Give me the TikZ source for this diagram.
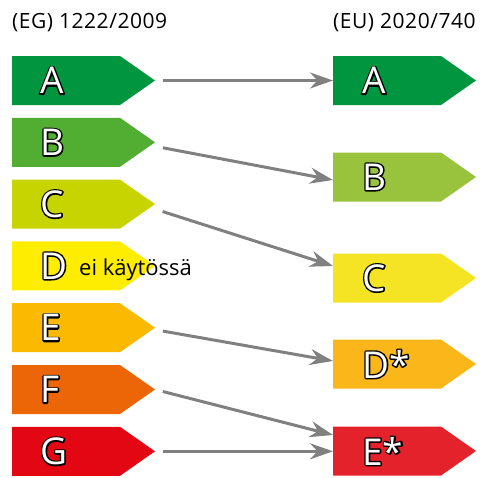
\documentclass[tikz,border=0pt]{standalone}
\usepackage{fontspec}
\setmainfont{Open Sans}
\usetikzlibrary{positioning,shapes.symbols,arrows.meta}
% old scale
\definecolor{oldA}{HTML}{009640}
\definecolor{oldB}{HTML}{52AE32}
\definecolor{oldC}{HTML}{C8D400}
\definecolor{oldD}{HTML}{FFED00}
\definecolor{oldE}{HTML}{FBBA00}
\definecolor{oldF}{HTML}{EC6608}
\definecolor{oldG}{HTML}{E30613}
% new scale
\definecolor{newA}{HTML}{00963F}
\definecolor{newB}{HTML}{9AC33D}
\definecolor{newC}{HTML}{F4E423}
\definecolor{newD}{HTML}{FBB61A}
\definecolor{newE}{HTML}{E3222B}
\definecolor{shiftgray}{HTML}{808080}
% black stroke behind, white fill on top
\newcommand\outlined[1]{\rlap{\color{black}\special{pdf:literal direct 2 Tr 2.8 w 0 0 0 RG 1 j}#1\special{pdf:literal direct 0 Tr}}{\color{white}#1}}
\tikzset{
  classbox/.style={signal, signal to=east, signal pointer angle=70,
    minimum width=143pt, minimum height=49pt, inner sep=0pt, outer sep=0pt,
    fill=#1, anchor=west},
  grade/.style={anchor=west, inner sep=0pt, font=\fontsize{37}{37}\selectfont},
  shiftarrow/.style={-{Stealth[length=23pt,width=16pt]}, line width=3pt,
    draw=shiftgray, shorten <=8pt},
  heading/.style={anchor=base west, inner sep=0pt,
    font=\fontsize{21}{21}\selectfont\addfontfeature{LetterSpace=2.5}}
}
\begin{document}
\begin{tikzpicture}[x=1pt,y=-1pt]
  \useasboundingbox (0,0) rectangle (486,477);
  \node[heading] (oldhead) at (12,28) {(EG) 1222/2009};
  \node[heading] (newhead) at (333,28) {(EU) 2020/740};
  % old classes
  \foreach \c [count=\k from 0] in {A,B,C,D,E,F,G}{
    \node[classbox=old\c] (l\c) at (12,80.5+61.8*\k) {};
    \node[grade, right=28pt of l\c.west] (lt\c) {\outlined{\c}};
  }
  \node[anchor=base west, inner sep=0pt, font=\fontsize{22}{22}\selectfont] (note) at (79,275) {ei käytössä};
  % new classes
  \node[classbox=newA] (rA) at (333,80.5) {};
  \node[classbox=newB] (rB) at (333,177) {};
  \node[classbox=newC] (rC) at (333,278) {};
  \node[classbox=newD] (rD) at (333,364) {};
  \node[classbox=newE] (rE) at (333,451) {};
  \node[grade, right=29pt of rA.west] (rtA) {\outlined{A}};
  \node[grade, right=29pt of rB.west] (rtB) {\outlined{B}};
  \node[grade, right=29pt of rC.west] (rtC) {\outlined{C}};
  \node[grade, right=29pt of rD.west] (rtD) {\outlined{D*}};
  \node[grade, right=29pt of rE.west] (rtE) {\outlined{E*}};
  % shifts
  \draw[shiftarrow] (lA.east) -- (rA.west);
  \draw[shiftarrow] ([yshift=-4pt]lB.east) -- ([yshift=-3pt]rB.west);
  \draw[shiftarrow] ([yshift=-5pt]lC.east) -- ([yshift=12pt]rC.west);
  \draw[shiftarrow] ([yshift=-2pt]lE.east) -- ([yshift=3pt]rD.west);
  \draw[shiftarrow] (lF.east) -- ([yshift=16pt]rE.west);
  \draw[shiftarrow] (lG.east) -- (lG.east -| rE.west);
\end{tikzpicture}
\end{document}
